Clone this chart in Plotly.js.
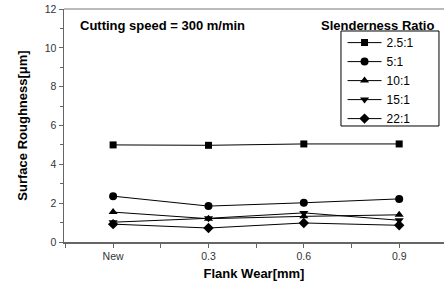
<!DOCTYPE html>
<html><head><meta charset="utf-8">
<script src="https://cdn.plot.ly/plotly-3.0.1.min.js"></script>
<style>html,body{margin:0;padding:0;background:#fff}#chart{width:444px;height:284px}</style>
</head><body><div id="chart"></div>
<script>
const categories = ['New', '0.3', '0.6', '0.9'];
const seriesNames = ['2.5:1', '5:1', '10:1', '15:1', '22:1'];
const r2_5 = [5.00, 4.98, 5.05, 5.05];
const r5 = [2.36, 1.85, 2.02, 2.22];
const r10 = [1.54, 1.20, 1.32, 1.40];
const r15 = [1.02, 1.22, 1.50, 1.12];
const r22 = [0.92, 0.72, 0.98, 0.86];
const yTicks = [0, 2, 4, 6, 8, 10, 12];

const symbols = ['square', 'circle', 'triangle-up', 'triangle-down', 'diamond'];
const sizes = [7, 8, 8, 8, 8];
const values = [r2_5, r5, r10, r15, r22];
const xIdx = categories.map((c, i) => i);

const traces = values.map((v, k) => ({
  x: xIdx, y: v, name: seriesNames[k], type: 'scatter', mode: 'lines+markers',
  line: {color: '#000', width: 1},
  marker: {symbol: symbols[k], size: sizes[k], color: '#000'}
}));

const ff = 'Liberation Sans, Arial, sans-serif';
const axisCol = '#666';
const layout = {
  width: 444, height: 284,
  margin: {l: 64, r: 0, t: 9, b: 42},
  paper_bgcolor: '#fff', plot_bgcolor: '#fff',
  font: {family: ff, color: '#000'},
  showlegend: true,
  legend: {x: 0.733, y: 0.918, xanchor: 'left', yanchor: 'top',
    borderwidth: 0, bgcolor: 'rgba(0,0,0,0)', itemwidth: 34,
    font: {size: 12, family: ff, color: '#000'}, tracegroupgap: 0},
  xaxis: {
    range: [-0.515, 3.47], tickmode: 'array', tickvals: xIdx, ticktext: categories,
    showgrid: false, zeroline: false, showline: true, linecolor: axisCol, linewidth: 1.5,
    ticks: 'outside', ticklen: 4, tickcolor: axisCol, tickwidth: 1,
    minor: {dtick: 0.5, tick0: 0.5, ticks: 'outside', ticklen: 4, tickcolor: axisCol, showgrid: false},
    tickfont: {size: 10.5, color: '#333', family: ff},
    title: {text: 'Flank Wear[mm]', font: {size: 13, family: ff, weight: 'bold', color: '#000'}, standoff: 8}
  },
  yaxis: {
    range: [0, 12], tickmode: 'array', tickvals: yTicks,
    showgrid: false, zeroline: false, showline: true, linecolor: axisCol, linewidth: 1.5,
    ticks: 'outside', ticklen: 4, tickcolor: axisCol, tickwidth: 1,
    minor: {dtick: 1, tick0: 1, ticks: 'outside', ticklen: 3, tickcolor: axisCol, showgrid: false},
    tickfont: {size: 10.5, color: '#333', family: ff},
    title: {text: 'Surface Roughness[\u03bcm]', font: {size: 13, family: ff, weight: 'bold', color: '#000'}, standoff: 14}
  },
  shapes: [
    {type: 'line', xref: 'paper', yref: 'paper', x0: 0, x1: 1, y0: 1, y1: 1,
      line: {color: '#777', width: 1}},
    {type: 'rect', xref: 'paper', yref: 'paper', x0: 0.7289, x1: 0.9868, y0: 0.4979, y1: 0.9056,
      line: {color: '#000', width: 1}, fillcolor: 'rgba(0,0,0,0)', layer: 'above'}
  ],
  annotations: [
    {text: '<b>Cutting speed = 300 m/min</b>', xref: 'paper', yref: 'paper', x: 0.036, y: 0.929,
      xanchor: 'left', yanchor: 'middle', showarrow: false, font: {size: 13, family: ff, color: '#000'}},
    {text: '<b>Slenderness Ratio</b>', xref: 'paper', yref: 'paper', x: 0.6711, y: 0.929,
      xanchor: 'left', yanchor: 'middle', showarrow: false, font: {size: 13, family: ff, color: '#000'}}
  ]
};
Plotly.newPlot('chart', traces, layout, {displayModeBar: false, staticPlot: true});
</script></body></html>
